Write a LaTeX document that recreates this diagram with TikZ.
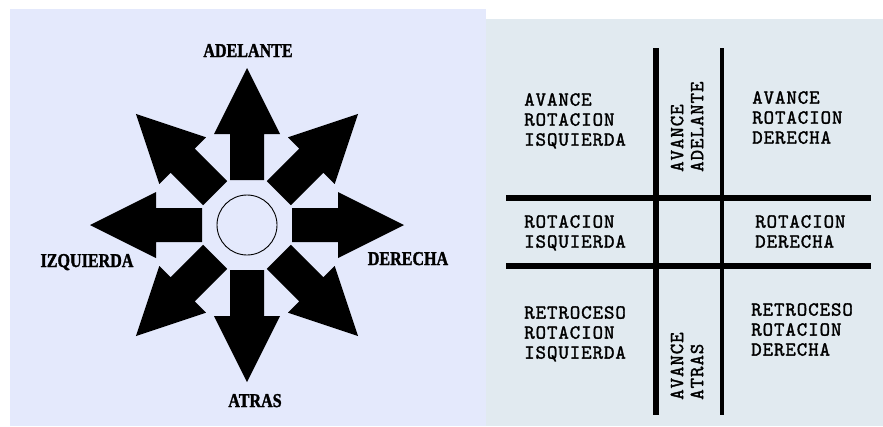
\documentclass[tikz,border=0pt]{standalone}
\usepackage{fontspec}
\newfontfamily\dirfont[FakeStretch=0.82, FakeBold=1.5]{Liberation Serif}
\newfontfamily\cellfont[Extension=.otf, LetterSpace=4.5, FakeBold=1.5]{lmmono10-regular}
\definecolor{starPanel}{RGB}{228,233,252}
\definecolor{gridPanel}{RGB}{225,234,240}
\tikzset{
  DirArrow/.style  = {fill=black},
  HubRing/.style   = {draw=black, line width=0.9pt},
  DirLabel/.style  = {font={\dirfont\bfseries\fontsize{19.6}{20}\selectfont},
                      inner sep=0pt, anchor=base},
  CellText/.style  = {font={\cellfont\fontsize{20}{20}\selectfont},
                      align=left, inner sep=0pt, anchor=north west},
  TurnText/.style  = {CellText, rotate=90, anchor=west},
  ThickRule/.style = {line width=5.5pt},
  ThinRule/.style  = {line width=4pt},
}
\begin{document}
\begin{tikzpicture}[x=1pt, y=-1pt]
  \useasboundingbox (0,0) rectangle (883,426);
  % the two panels
  \fill[starPanel] (10,9) rectangle (486,426);
  \fill[gridPanel] (486,19) rectangle (883,426);

  % left: eight arrows round the hub
  \coordinate (hub) at (247,225);
  \foreach \ang in {0,45,...,315}
    \fill[DirArrow, shift={(hub)}, rotate=\ang]
      (45,-17) -- (91,-17) -- (91,-33) -- (157,0) -- (91,33) -- (91,17) -- (45,17) -- cycle;
  \draw[HubRing] (hub) circle[radius=30pt];
  \node[DirLabel] (fwd)   at (248,57)  {ADELANTE};
  \node[DirLabel] (left)  at (87,267)  {IZQUIERDA};
  \node[DirLabel] (right) at (408,265) {DERECHA};
  \node[DirLabel] (back)  at (255,407) {ATRAS};

  % right: the grid
  \coordinate (colAtop) at (656,48);  \coordinate (colAbot) at (656,415);
  \coordinate (colBtop) at (722,48);  \coordinate (colBbot) at (722,415);
  \coordinate (rowAw)   at (506,198); \coordinate (rowAe)   at (871,198);
  \coordinate (rowBw)   at (506,266); \coordinate (rowBe)   at (871,266);
  \draw[ThickRule] (colAtop) -- (colAbot);
  \draw[ThinRule]  (colBtop) -- (colBbot);
  \draw[ThickRule] (rowAw) -- (rowAe);
  \draw[ThickRule] (rowBw) -- (rowBe);

  \node[CellText] (fwdLeft)   at (524,93)  {AVANCE\\ROTACION\\ISQUIERDA};
  \node[CellText] (fwdRight)  at (752,91)  {AVANCE\\ROTACION\\DERECHA};
  \node[CellText] (turnLeft)  at (524,215) {ROTACION\\ISQUIERDA};
  \node[CellText] (turnRight) at (755,215) {ROTACION\\DERECHA};
  \node[CellText] (backLeft)  at (524,306) {RETROCESO\\ROTACION\\ISQUIERDA};
  \node[CellText] (backRight) at (751,303) {RETROCESO\\ROTACION\\DERECHA};
  \node[TurnText] (fwdMid)    at (687,172) {AVANCE\\ADELANTE};
  \node[TurnText] (backMid)   at (687,400) {AVANCE\\ATRAS};
\end{tikzpicture}
\end{document}
